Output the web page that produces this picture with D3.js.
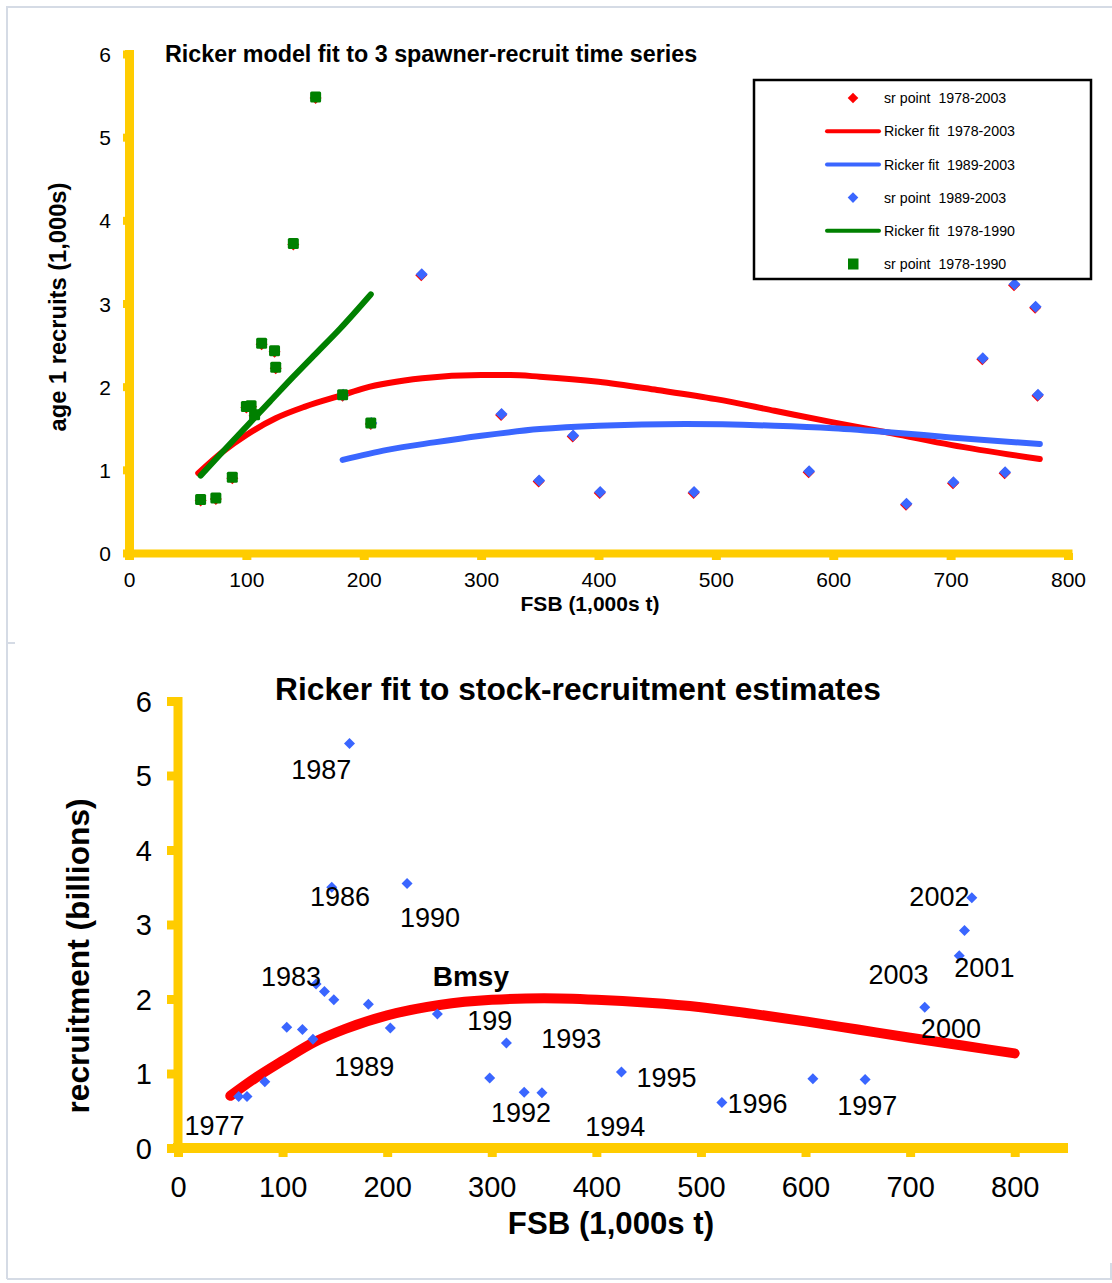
<!DOCTYPE html>
<html>
<head>
<meta charset="utf-8">
<script src="https://cdn.jsdelivr.net/npm/d3@7"></script>
<style>
  html, body { margin: 0; padding: 0; background: #fff; }
  svg { display: block; font-family: "Liberation Sans", Arial, sans-serif; }
  .pre { white-space: pre; }
</style>
</head>
<body>
<svg id="chart" width="1112" height="1283"></svg>
<script>
// ---------------- DATA (top chart) ----------------
const xTicks = [0, 100, 200, 300, 400, 500, 600, 700, 800];
const yTicks = [0, 1, 2, 3, 4, 5, 6];

// sr point 1978-2003 (red diamonds, mostly hidden under the other markers)
const srAllX = [61, 74, 88, 100, 104, 107, 113, 124, 125, 140, 159, 182, 206, 249, 317, 349, 378, 401, 481, 579, 662, 702, 727, 746, 754, 772, 774];
const srAllY = [0.63, 0.65, 0.90, 1.75, 1.76, 1.65, 2.51, 2.42, 2.22, 3.71, 5.47, 1.89, 1.55, 3.34, 1.66, 0.86, 1.40, 0.72, 0.72, 0.97, 0.58, 0.84, 2.33, 0.96, 3.22, 2.95, 1.89];

// sr point 1989-2003 (blue diamonds)
const srLateX = [182, 206, 249, 317, 349, 378, 401, 481, 579, 662, 702, 727, 746, 754, 772, 774];
const srLateY = [1.89, 1.55, 3.34, 1.66, 0.86, 1.40, 0.72, 0.72, 0.97, 0.58, 0.84, 2.33, 0.96, 3.22, 2.95, 1.89];

// sr point 1978-1990 (green squares)
const srEarlyX = [61, 74, 88, 100, 104, 107, 113, 124, 125, 140, 159, 182, 206];
const srEarlyY = [0.63, 0.65, 0.90, 1.75, 1.76, 1.65, 2.51, 2.42, 2.22, 3.71, 5.47, 1.89, 1.55];

// Ricker fit 1978-2003 (red line)
const fitAllX = [59, 80, 100, 125, 150, 182, 200, 250, 300, 325, 350, 400, 450, 500, 550, 600, 650, 700, 776];
const fitAllY = [0.96, 1.22, 1.42, 1.62, 1.76, 1.90, 1.98, 2.10, 2.14, 2.14, 2.12, 2.06, 1.96, 1.85, 1.71, 1.57, 1.44, 1.30, 1.13];

// Ricker fit 1989-2003 (blue line)
const fitLateX = [182, 220, 260, 300, 350, 400, 474, 550, 600, 650, 700, 776];
const fitLateY = [1.12, 1.24, 1.33, 1.41, 1.49, 1.53, 1.55, 1.53, 1.50, 1.45, 1.39, 1.31];

// Ricker fit 1978-1990 (green line)
const fitEarlyX = [61, 80, 100, 120, 140, 160, 180, 206];
const fitEarlyY = [0.93, 1.22, 1.52, 1.82, 2.12, 2.41, 2.70, 3.11];

const legendLabels = ["sr point  1978-2003", "Ricker fit  1978-2003", "Ricker fit  1989-2003", "sr point  1989-2003", "Ricker fit  1978-1990", "sr point  1978-1990"];
const legendKinds = ["diamond", "line", "line", "diamond", "line", "square"];
const legendColors = ["#ff0000", "#ff0000", "#3a66ff", "#3a66ff", "#008000", "#008000"];

// ---------------- DATA (bottom chart) ----------------
const bxTicks = [0, 100, 200, 300, 400, 500, 600, 700, 800];
const byTicks = [0, 1, 2, 3, 4, 5, 6];

const srFSB = [58, 66, 83, 104, 119, 129, 132, 140, 149, 147, 164, 182, 203, 219, 248, 298, 314, 331, 348, 424, 520, 607, 657, 714, 747, 752, 759];
const srRec = [0.69, 0.69, 0.89, 1.62, 1.59, 1.46, 2.20, 2.10, 1.99, 3.50, 5.43, 1.93, 1.61, 3.55, 1.80, 0.94, 1.41, 0.75, 0.74, 1.02, 0.61, 0.93, 0.92, 1.89, 2.58, 2.92, 3.36];

const fitX = [50, 75, 100, 130, 160, 200, 250, 300, 350, 400, 450, 500, 550, 600, 650, 700, 750, 800];
const fitY = [0.70, 0.95, 1.17, 1.42, 1.60, 1.78, 1.92, 1.99, 2.01, 1.99, 1.95, 1.89, 1.80, 1.70, 1.59, 1.48, 1.375, 1.27];

// year annotations (anchor centre x, baseline y in data units)
const yearText = ["1977", "1983", "1986", "1987", "1989", "1990", "199", "1992", "1993", "1994", "1995", "1996", "1997", "2000", "2001", "2002", "2003"];
const yearX = [35, 108, 155, 137, 178, 241, 298, 328, 376, 418, 467, 554, 659, 739, 771, 728, 689];
const yearY = [0.18, 2.17, 3.25, 4.95, 0.97, 2.97, 1.59, 0.35, 1.34, 0.16, 0.82, 0.475, 0.44, 1.47, 2.30, 3.25, 2.20];
const bmsyText = "Bmsy";
const bmsyX = 280, bmsyY = 2.18;

// ---------------- DRAWING ----------------
const YELLOW = "#ffcc00";
const RED = "#ff0000", BLUE = "#3a66ff", GREEN = "#008000";
const svg = d3.select("#chart");
svg.append("rect").attr("width", 1112).attr("height", 1283).attr("fill", "#fff");

// panel borders
const border = "#d5dbe5";
const bd = svg.append("g").attr("stroke", border).attr("stroke-width", 2).attr("fill", "none");
bd.append("path").attr("d", "M6,7 H1112 M7,7 V1279 M7,643 H15 M7,1279 H1112 M1111,1263 V1279");

const diamond = r => `M0,${-r}L${r},0L0,${r}L${-r},0Z`;
const zip = (xs, ys) => xs.map((x, i) => [x, ys[i]]);

// ===== TOP CHART =====
const xT = d3.scaleLinear().domain([0, 800]).range([129, 1068]);
const yT = d3.scaleLinear().domain([0, 6]).range([553, 54]);
const topG = svg.append("g");

function styleAxis(g, width, tickW) {
  g.select(".domain").attr("stroke", YELLOW).attr("stroke-width", width).attr("stroke-linecap", "square");
  g.selectAll(".tick line").attr("stroke", YELLOW).attr("stroke-width", tickW);
  g.selectAll(".tick text").attr("fill", "#000");
}

const gxT = topG.append("g").attr("transform", `translate(0,${yT(0)})`)
  .call(d3.axisBottom(xT).tickValues(xTicks).tickSize(7).tickSizeOuter(0).tickFormat(d3.format("d")));
styleAxis(gxT, 8, 9);
gxT.selectAll(".tick text").attr("y", 34).attr("dy", null).attr("font-size", 21);

const gyT = topG.append("g").attr("transform", `translate(${xT(0)},0)`)
  .call(d3.axisLeft(yT).tickValues(yTicks).tickSize(6).tickSizeOuter(0).tickFormat(d3.format("d")));
styleAxis(gyT, 9, 8);
gyT.selectAll(".tick text").attr("x", -18).attr("dy", "0.36em").attr("font-size", 21);
gxT.raise();

topG.append("text").attr("x", 165).attr("y", 62).attr("font-size", 23.3).attr("font-weight", "bold")
  .text("Ricker model fit to 3 spawner-recruit time series");
topG.append("text").attr("transform", "translate(66,307) rotate(-90)").attr("text-anchor", "middle")
  .attr("font-size", 23.7).attr("font-weight", "bold").text("age 1 recruits (1,000s)");
topG.append("text").attr("x", 590).attr("y", 611).attr("text-anchor", "middle")
  .attr("font-size", 21).attr("font-weight", "bold").text("FSB (1,000s t)");

const lineT = d3.line().x(d => xT(d[0])).y(d => yT(d[1])).curve(d3.curveMonotoneX);

// series in legend order
topG.append("g").selectAll("path").data(zip(srAllX, srAllY)).join("path")
  .attr("d", diamond(6)).attr("fill", RED)
  .attr("transform", d => `translate(${xT(d[0])},${yT(d[1])})`);
topG.append("path").datum(zip(fitAllX, fitAllY)).attr("d", lineT)
  .attr("fill", "none").attr("stroke", RED).attr("stroke-width", 6).attr("stroke-linecap", "round");
topG.append("path").datum(zip(fitLateX, fitLateY)).attr("d", lineT)
  .attr("fill", "none").attr("stroke", BLUE).attr("stroke-width", 6).attr("stroke-linecap", "round");
topG.append("g").selectAll("path").data(zip(srLateX, srLateY)).join("path")
  .attr("d", diamond(6)).attr("fill", BLUE)
  .attr("transform", d => `translate(${xT(d[0]) + 0.5},${yT(d[1]) - 1})`);
topG.append("path").datum(zip(fitEarlyX, fitEarlyY)).attr("d", lineT)
  .attr("fill", "none").attr("stroke", GREEN).attr("stroke-width", 6).attr("stroke-linecap", "round");
topG.append("g").selectAll("rect").data(zip(srEarlyX, srEarlyY)).join("rect")
  .attr("x", d => xT(d[0]) - 5.5).attr("y", d => yT(d[1]) - 6.5)
  .attr("width", 11).attr("height", 11).attr("rx", 1.5).attr("fill", GREEN);

// legend
const lg = topG.append("g");
lg.append("rect").attr("x", 754).attr("y", 80).attr("width", 337).attr("height", 199)
  .attr("fill", "#fff").attr("stroke", "#000").attr("stroke-width", 2.5);
legendLabels.forEach((lab, i) => {
  const cy = 98 + i * 33.2;
  const k = legendKinds[i], c = legendColors[i];
  if (k === "line") {
    lg.append("line").attr("x1", 827).attr("x2", 879).attr("y1", cy).attr("y2", cy)
      .attr("stroke", c).attr("stroke-width", 4).attr("stroke-linecap", "round");
  } else if (k === "diamond") {
    lg.append("path").attr("d", diamond(5.3)).attr("fill", c).attr("transform", `translate(853,${cy})`);
  } else {
    lg.append("rect").attr("x", 848).attr("y", cy - 5.5).attr("width", 10.5).attr("height", 11).attr("fill", c);
  }
  lg.append("text").attr("class", "pre").attr("x", 884).attr("y", cy).attr("dy", "0.36em")
    .attr("font-size", 14.2).text(lab);
});

// ===== BOTTOM CHART =====
const xB = d3.scaleLinear().domain([0, 850]).range([178, 1067]);
const yB = d3.scaleLinear().domain([0, 6]).range([1148, 701]);
const bot = svg.append("g");

const gyB = bot.append("g").attr("transform", `translate(${xB(0)},0)`)
  .call(d3.axisLeft(yB).tickValues(byTicks).tickSize(11).tickSizeOuter(0).tickFormat(d3.format("d")));
styleAxis(gyB, 9, 9);
gyB.selectAll(".tick text").attr("x", -26).attr("dy", "0.36em").attr("font-size", 29);

const gxB = bot.append("g").attr("transform", `translate(0,${yB(0)})`)
  .call(d3.axisBottom(xB).tickValues(bxTicks).tickSize(9).tickSizeOuter(0).tickFormat(d3.format("d")));
styleAxis(gxB, 10, 9);
gxB.select(".domain").attr("stroke-linecap", "butt")
  .attr("d", `M${xB(0) - 5},0H${xB(850) + 1}`);
gxB.selectAll(".tick text").attr("y", 49).attr("dy", null).attr("font-size", 29);
gyB.select(".domain").attr("d", `M0,${yB(0) + 5}V${yB(6) - 4}`).attr("stroke-linecap", "butt");

bot.append("text").attr("x", 578).attr("y", 700).attr("text-anchor", "middle")
  .attr("font-size", 31.7).attr("font-weight", "bold").text("Ricker fit to stock-recruitment estimates");
bot.append("text").attr("transform", "translate(89,956) rotate(-90)").attr("text-anchor", "middle")
  .attr("font-size", 31.7).attr("font-weight", "bold").text("recruitment (billions)");
bot.append("text").attr("x", 611).attr("y", 1234).attr("text-anchor", "middle")
  .attr("font-size", 31.2).attr("font-weight", "bold").text("FSB (1,000s t)");

const lineB = d3.line().x(d => xB(d[0])).y(d => yB(d[1])).curve(d3.curveMonotoneX);
bot.append("path").datum(zip(fitX, fitY)).attr("d", lineB)
  .attr("fill", "none").attr("stroke", RED).attr("stroke-width", 10).attr("stroke-linecap", "round");

bot.append("g").selectAll("path").data(zip(srFSB, srRec)).join("path")
  .attr("d", diamond(5.5)).attr("fill", BLUE)
  .attr("transform", d => `translate(${xB(d[0])},${yB(d[1])})`);

bot.append("g").selectAll("text").data(yearText).join("text")
  .attr("x", (d, i) => xB(yearX[i])).attr("y", (d, i) => yB(yearY[i]))
  .attr("text-anchor", "middle").attr("font-size", 27).text(d => d);
bot.append("text").attr("x", xB(bmsyX)).attr("y", yB(bmsyY)).attr("text-anchor", "middle")
  .attr("font-size", 28).attr("font-weight", "bold").text(bmsyText);
</script>
</body>
</html>
